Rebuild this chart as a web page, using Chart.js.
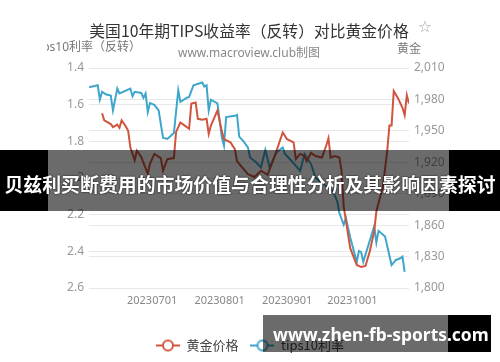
<!DOCTYPE html>
<html>
<head>
<meta charset="utf-8">
<script src="https://cdn.jsdelivr.net/npm/chart.js@4.4.0/dist/chart.umd.min.js"></script>
<style>
html, body { margin: 0; padding: 0; background: #fff; }
#wrap { position: relative; width: 500px; height: 362px; overflow: hidden; }
#ChartTips { position: absolute; left: 0; top: 0; }
.banda {
    position: absolute; left: 0; top: 150px; width: 500px; height: 61px;
    background: linear-gradient(to right, #000 0, #000 48px, rgba(0,0,0,0.58) 48px, rgba(0,0,0,0.58) 449px, #000 449px);
}
.banda span {
    position: absolute; left: 0; top: 21px; width: 500px; text-align: center;
    font: bold 18.9px "Noto Sans CJK SC", sans-serif; line-height: 26px; color: #fff;
    white-space: nowrap; text-shadow: 0 0 2px #000;
}
.marca {
    position: absolute; left: 263px; top: 315px; width: 228px; height: 37px;
    background: linear-gradient(to right, rgba(0,0,0,0.58) 0, rgba(0,0,0,0.58) 185px, #000 185px);
}
.marca span {
    position: absolute; left: 10px; top: 8px; text-align: left;
    font: bold 17.4px "Noto Sans", sans-serif; line-height: 22px; color: #fff; white-space: nowrap;
}
</style>
</head>
<body>
<div id="wrap">
    <canvas id="ChartTips" width="500" height="362"></canvas>
    <div class="banda"><span>贝兹利买断费用的市场价值与合理性分析及其影响因素探讨</span></div>
    <div class="marca"><span>www.zhen-fb-sports.com</span></div>
</div>
<script>
// TIPS 10 años (eje izquierdo, invertido)
const tipsFechas = [
    '20230602','20230606','20230607','20230608','20230610','20230612','20230613','20230615','20230616','20230621',
    '20230622','20230623','20230626','20230627','20230628','20230629','20230630',
    '20230702','20230704','20230706','20230708','20230711','20230713','20230714','20230717','20230718','20230720',
    '20230724','20230725','20230726','20230727','20230728','20230731',
    '20230802','20230803','20230804','20230808','20230809','20230810','20230812','20230814','20230815','20230818',
    '20230820','20230822','20230824','20230827','20230830','20230831',
    '20230903','20230907','20230909','20230912','20230914','20230917','20230922','20230924','20230925','20230927',
    '20230928','20230930',
    '20231003','20231004','20231005','20231006','20231011','20231012','20231013','20231016','20231019','20231021',
    '20231023','20231024','20231025'
]
const tipsValores = [
    1.505,1.494,1.572,1.530,1.545,1.550,1.631,1.512,1.539,1.512,
    1.554,1.530,1.536,1.563,1.539,1.640,1.591,
    1.601,1.631,1.780,1.787,1.755,1.521,1.585,1.562,1.558,1.494,
    1.479,1.501,1.494,1.631,1.573,1.593,
    1.778,1.824,1.668,1.661,1.656,1.774,1.800,1.833,1.888,1.917,
    1.943,1.846,1.943,1.862,1.833,1.869,
    1.906,1.961,1.869,1.924,1.998,2.027,2.071,2.126,2.190,2.255,
    2.218,2.325,
    2.457,2.398,2.404,2.457,2.264,2.352,2.288,2.319,2.475,2.447,
    2.438,2.429,2.512
]

// Precio del oro (eje derecho)
const oroFechas = [
    '20230608','20230609','20230612','20230613','20230615','20230616','20230617','20230619','20230620','20230621',
    '20230623','20230624','20230626','20230629','20230630',
    '20230702','20230705','20230706','20230708','20230711','20230712','20230714','20230716','20230718','20230719',
    '20230721','20230722','20230724','20230726','20230727','20230728','20230731',
    '20230802','20230803','20230806','20230808','20230809','20230814','20230817','20230820','20230823','20230826',
    '20230830',
    '20230901','20230904','20230905','20230907','20230909','20230910','20230912','20230914','20230917','20230919',
    '20230920','20230921','20230923','20230925','20230926','20230927','20230930',
    '20231003','20231005','20231007','20231009','20231011','20231012','20231015','20231017','20231018','20231019',
    '20231020','20231022','20231024','20231025','20231026','20231027'
]
const oroValores = [
    1966.7,1960,1956.5,1953.5,1956,1953,1960,1954,1950,1934,
    1922,1931,1925,1909,1918.5,
    1928,1924,1912,1923,1924,1949,1958,1955,1952,1976,
    1977,1961.5,1960.6,1961.5,1947,1955,1969.5,
    1950,1942,1939,1932.6,1921,1908.6,1906,1912,1908,1924,
    1948.4,
    1942,1939,1923,1928,1926,1921,1929,1926,1924.5,1936,
    1943,1924.5,1926,1924.5,1912,1878,1838,
    1822,1820,1821,1835,1854,1873,1897,1931,1955,1955,
    1988,1981,1972,1965,1984,1976
]

const xEtiquetas = ['20230701', '20230801', '20230901', '20231001']
const xInicio = '20230602'
const xFin = '20231027'
const tipsTicks = [1.4, 1.6, 1.8, 2, 2.2, 2.4, 2.6]
const oroTicks = [1800, 1830, 1860, 1890, 1920, 1950, 1980, 2010]

const rojo = '#d0553f'
const azul = '#3fa6cb'
const fuente = '"Noto Sans", "Noto Sans CJK SC", sans-serif'

// dias desde el 1 de julio
const base = Date.UTC(2023, 6, 1)
const diaNum = (s) => Math.round((Date.UTC(+s.slice(0, 4), +s.slice(4, 6) - 1, +s.slice(6, 8)) - base) / 864e5)

const tipsPuntos = tipsFechas.map((f, i) => ({ x: diaNum(f), y: tipsValores[i] }))
const oroPuntos = oroFechas.map((f, i) => ({ x: diaNum(f), y: oroValores[i] }))

// marcador de la leyenda: linea con circulo
const marcador = (color) => {
    const c = document.createElement('canvas')
    c.width = 24
    c.height = 14
    const g = c.getContext('2d')
    g.strokeStyle = color
    g.lineWidth = 2
    g.beginPath()
    g.moveTo(0, 7); g.lineTo(24, 7)
    g.stroke()
    g.beginPath()
    g.arc(12, 7, 5, 0, Math.PI * 2)
    g.fillStyle = '#fff'
    g.fill()
    g.stroke()
    return c
}
const marcadores = [marcador(rojo), marcador(azul)]

const textos = {
    id: 'textos',
    afterDraw(chart) {
        const ctx = chart.ctx
        ctx.save()
        ctx.textBaseline = 'middle'
        ctx.textAlign = 'center'
        ctx.fillStyle = '#333'
        ctx.font = '15.8px "Noto Sans CJK SC", sans-serif'
        ctx.fillText('美国10年期TIPS收益率（反转）对比黄金价格', 249, 31)
        ctx.fillStyle = '#888'
        ctx.font = '12px ' + fuente
        ctx.fillText('www.macroview.club制图', 249, 54)
        ctx.fillStyle = '#aaa'
        ctx.font = '16px "DejaVu Sans"'
        ctx.fillText('☆', 425, 28)
        ctx.fillStyle = '#777'
        ctx.font = '12px "Noto Sans CJK SC", sans-serif'
        ctx.fillText('黄金', 409, 48)
        ctx.beginPath()
        ctx.rect(47, 0, 453, 362)
        ctx.clip()
        ctx.textAlign = 'right'
        ctx.font = '12px ' + fuente
        ctx.fillText('tips10利率（反转）', 141, 48)
        ctx.restore()
    }
}

const ChartTips = document.getElementById('ChartTips')
let myChart = new Chart(ChartTips, {
    type: 'line',
    data: {
        datasets: [{
            label: '黄金价格',
            data: oroPuntos,
            yAxisID: 'yOro',
            borderColor: rojo,
            borderWidth: 2,
            pointRadius: 0,
            tension: 0
        }, {
            label: 'tips10利率',
            data: tipsPuntos,
            yAxisID: 'yTips',
            borderColor: azul,
            borderWidth: 2,
            pointRadius: 0,
            tension: 0
        }]
    },
    options: {
        responsive: false,
        animation: false,
        layout: { padding: { top: 68, left: 0, right: 0, bottom: 0 } },
        scales: {
            x: {
                type: 'linear',
                min: diaNum(xInicio),
                max: diaNum(xFin),
                grid: { display: false, drawTicks: false },
                border: { display: false },
                afterBuildTicks: (s) => { s.ticks = xEtiquetas.map(e => ({ value: diaNum(e) })) },
                afterFit: (s) => { s.height = 39 },
                ticks: {
                    autoSkip: false,
                    maxRotation: 0,
                    padding: 6,
                    color: '#888',
                    font: { family: fuente, size: 11 },
                    callback: (v, i) => xEtiquetas[i]
                }
            },
            yTips: {
                position: 'left',
                reverse: true,
                min: 1.4,
                max: 2.6,
                grid: { color: '#e8e8e8', drawTicks: false },
                border: { display: false },
                afterBuildTicks: (s) => { s.ticks = tipsTicks.map(v => ({ value: v })) },
                afterFit: (s) => { s.width = 89 },
                ticks: {
                    padding: 5,
                    color: '#999',
                    font: { family: fuente, size: 12 },
                    callback: (v) => String(v)
                }
            },
            yOro: {
                position: 'right',
                min: 1800,
                max: 2010,
                grid: { color: '#e8e8e8', drawTicks: false },
                border: { display: false },
                afterBuildTicks: (s) => { s.ticks = oroTicks.map(v => ({ value: v })) },
                afterFit: (s) => { s.width = 91 },
                ticks: {
                    padding: 5,
                    color: '#999',
                    font: { family: fuente, size: 12 },
                    callback: (v) => v.toLocaleString('en-US')
                }
            }
        },
        plugins: {
            tooltip: { enabled: false },
            legend: {
                position: 'bottom',
                labels: {
                    usePointStyle: true,
                    pointStyleWidth: 24,
                    padding: 12,
                    color: '#444',
                    font: { family: '"Noto Sans CJK SC", sans-serif', size: 13 },
                    generateLabels: (chart) => {
                        const items = Chart.defaults.plugins.legend.labels.generateLabels(chart)
                        items.forEach((it, i) => { it.pointStyle = marcadores[i] })
                        return items
                    }
                }
            }
        }
    },
    plugins: [textos]
})
</script>
</body>
</html>
